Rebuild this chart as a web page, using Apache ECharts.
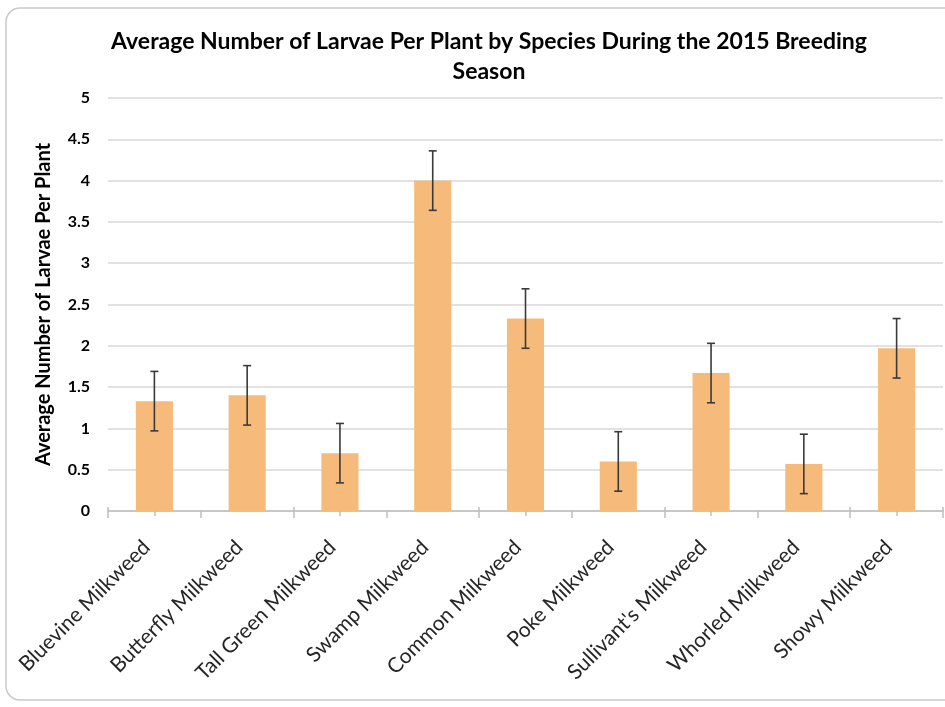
<!DOCTYPE html>
<html>
<head>
<meta charset="utf-8">
<script src="https://cdn.jsdelivr.net/npm/echarts@6/dist/echarts.min.js"></script>
<style>
html,body{margin:0;padding:0;background:#fff;}
#chart{width:945px;height:707px;}
</style>
</head>
<body>
<div id="chart"></div>
<script>
const categories = ['Bluevine Milkweed','Butterfly Milkweed','Tall Green Milkweed','Swamp Milkweed','Common Milkweed','Poke Milkweed',"Sullivant's Milkweed",'Whorled Milkweed','Showy Milkweed'];
const means = [1.33, 1.40, 0.70, 4.00, 2.33, 0.60, 1.67, 0.57, 1.97];
const errors = [0.36, 0.36, 0.36, 0.36, 0.36, 0.36, 0.36, 0.36, 0.36];
const yTicks = [0, 0.5, 1, 1.5, 2, 2.5, 3, 3.5, 4, 4.5, 5];

const errData = means.map((m, i) => [i, m - errors[i], m + errors[i]]);
const FONT = 'Lato';

const chart = echarts.init(document.getElementById('chart'));
chart.setOption({
  backgroundColor: '#ffffff',
  animation: false,
  textStyle: { fontFamily: FONT },
  graphic: [{
    type: 'rect', silent: true, z: -10,
    shape: { x: 6, y: 8, width: 960, height: 692, r: 14 },
    style: { fill: 'none', stroke: '#c9c9c9', lineWidth: 1.5 }
  }],
  title: {
    text: 'Average Number of Larvae Per Plant by Species During the 2015 Breeding\nSeason',
    left: 484, top: 22, textAlign: 'center',
    textStyle: { fontFamily: FONT, fontWeight: 'bold', fontSize: 23, color: '#000', lineHeight: 30 }
  },
  grid: { left: 108, right: 2, top: 98, bottom: 196, containLabel: false },
  xAxis: [{
    type: 'category', data: categories, position: 'bottom',
    axisLine: { show: true, lineStyle: { color: '#bfbfbf', width: 1.5 } },
    axisTick: { show: true, length: 7, lineStyle: { color: '#bfbfbf', width: 1.5 } },
    axisLabel: { rotate: 45, margin: 25, padding: [0, 11, 0, 0], fontFamily: FONT, fontSize: 21, color: '#262626' },
    splitLine: { show: false }
  }, {
    type: 'category', data: categories, position: 'bottom',
    axisLine: { show: false },
    axisTick: { show: true, inside: true, length: 4, lineStyle: { color: '#bfbfbf', width: 1.5 } },
    axisLabel: { show: false }
  }, {
    type: 'category', data: categories, position: 'bottom',
    axisLine: { show: false },
    axisTick: { show: true, alignWithLabel: true, length: 5, lineStyle: { color: '#bfbfbf', width: 1.5 } },
    axisLabel: { show: false }
  }],
  yAxis: {
    type: 'value', min: yTicks[0], max: yTicks[yTicks.length - 1], interval: yTicks[1] - yTicks[0],
    name: 'Average Number of Larvae Per Plant', nameLocation: 'middle', nameGap: 54, nameRotate: 90,
    nameTextStyle: { fontFamily: FONT, fontWeight: 'bold', fontSize: 20, color: '#000' },
    axisLine: { show: false }, axisTick: { show: false },
    axisLabel: { margin: 18, fontFamily: FONT, fontWeight: 'bold', fontSize: 16, color: '#000' },
    splitLine: { lineStyle: { color: '#d9d9d9', width: 1.5 } }
  },
  series: [{
    type: 'bar', data: means, xAxisIndex: 0, barWidth: '40%',
    itemStyle: { color: '#F6BB7A' }, z: 2
  }, {
    type: 'custom', xAxisIndex: 0, data: errData, z: 5,
    renderItem: function (params, api) {
      const x = api.value(0);
      const lo = api.coord([x, api.value(1)]);
      const hi = api.coord([x, api.value(2)]);
      const cap = 4;
      const st = { stroke: '#3a3a3a', lineWidth: 1.6 };
      return { type: 'group', children: [
        { type: 'line', shape: { x1: lo[0], y1: lo[1], x2: hi[0], y2: hi[1] }, style: st },
        { type: 'line', shape: { x1: lo[0] - cap, y1: lo[1], x2: lo[0] + cap, y2: lo[1] }, style: st },
        { type: 'line', shape: { x1: hi[0] - cap, y1: hi[1], x2: hi[0] + cap, y2: hi[1] }, style: st }
      ]};
    }
  }]
});
</script>
</body>
</html>
